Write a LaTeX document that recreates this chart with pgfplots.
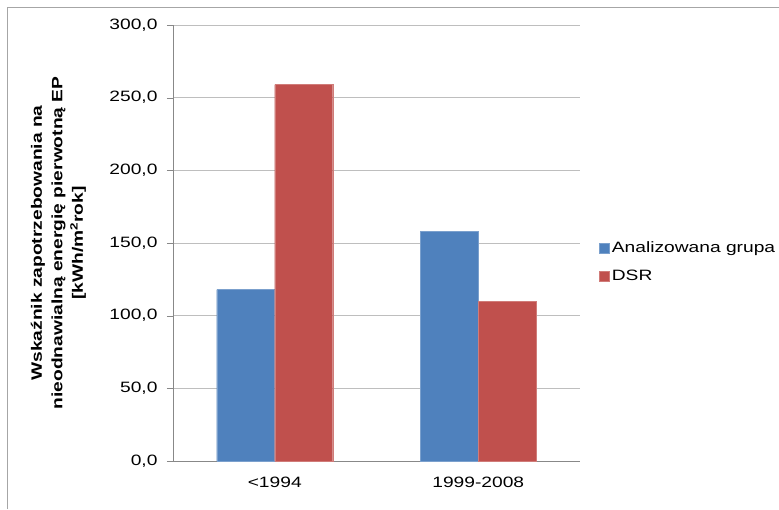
\documentclass[border=0pt]{standalone}
\usepackage{pgfplots}
\pgfplotsset{compat=1.18}
\usepackage{fontspec}
\setmainfont{Liberation Sans}[FakeStretch=1.28]
\definecolor{blueS}{HTML}{4F81BD}
\definecolor{redS}{HTML}{C0504D}
\definecolor{gridG}{HTML}{BEBEBE}
\definecolor{axisG}{HTML}{888888}
\begin{document}
\begin{tikzpicture}[x=1pt,y=1pt]
  \useasboundingbox[fill=white] (-173,-48) rectangle (606,461);
  \draw[color=gray!70, line width=1pt] (-165,-48) -- (-165,453) -- (606,453);
  \begin{axis}[
    at={(0,0)}, anchor=south west,
    scale only axis,
    width=407pt, height=436pt,
    ybar=0pt, bar width=58pt,
    xmin=-0.5, xmax=1.5,
    ymin=0, ymax=300,
    ytick distance=50,
    xtick={0,1},
    xticklabels={{<1994},{1999-2008}},
    x tick style={draw=none},
    extra x ticks={-0.5,0.5,1.5},
    extra x tick labels={},
    extra x tick style={tick style={draw=axisG}, major tick length=6pt, tick align=outside, grid=none},
    y tick style={draw=axisG},
    major tick length=6pt, tick align=outside,
    axis x line*=bottom, axis y line*=left,
    axis line style={draw=axisG, line width=0.8pt, -},
    ymajorgrids, grid style={draw=gridG, line width=0.8pt},
    /pgf/number format/.cd, fixed, fixed zerofill, precision=1, use comma, assume math mode=true,
    /pgfplots/.cd,
    tick label style={font=\fontsize{15}{18}\selectfont},
    xticklabel style={yshift=-6pt},
    yticklabel style={xshift=-6pt},
    ylabel={Wskaźnik zapotrzebowania na\\nieodnawialną energię pierwotną EP\\{}[kWh/m\textsuperscript{2}rok]},
    ylabel style={at={(rel axis cs:0,0.5)}, anchor=center, yshift=114.5pt, align=center,
      font=\bfseries\fontsize{15}{20.5}\selectfont},
    legend style={draw=none, at={(1.04,0.456)}, anchor=west,
      font=\fontsize{15}{18}\selectfont, row sep=12pt,
      /tikz/every even column/.append style={column sep=2pt}},
    legend cell align=left,
    legend image code/.code={\fill[#1] (0pt,-5pt) rectangle (10pt,5pt);},
    clip=false,
  ]
    % Analizowana grupa
    \addplot[fill=blueS, draw=blueS!75!white] coordinates {(0,118) (1,158)};
    % DSR
    \addplot[fill=redS, draw=redS!75!white] coordinates {(0,259) (1,110)};
    \legend{Analizowana grupa,DSR}
  \end{axis}
\end{tikzpicture}
\end{document}
